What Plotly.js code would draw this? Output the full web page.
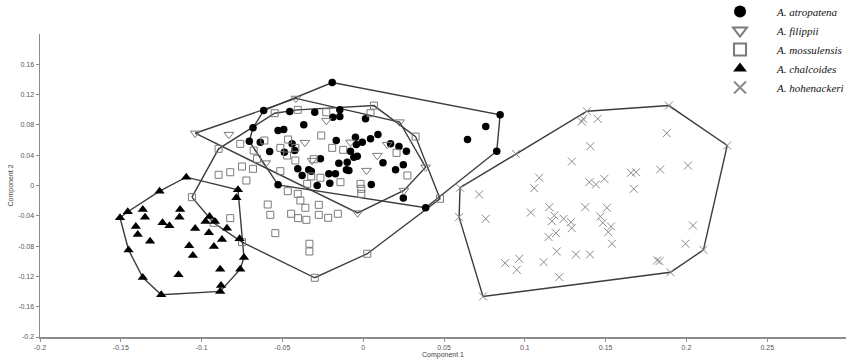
<!DOCTYPE html>
<html>
<head>
<meta charset="utf-8">
<script src="https://cdn.plot.ly/plotly-3.0.1.min.js"></script>
<style>html,body{margin:0;padding:0;background:#fff;}#chart{width:846px;height:361px;}</style>
</head>
<body>
<div id="chart"></div>
<script>
// ---- Data (Component 1 / Component 2 scores) ----
const speciesNames = ["A. atropatena", "A. filippii", "A. mossulensis", "A. chalcoides", "A. hohenackeri"];

const atropatenaX = [-0.0192,-0.0616,-0.0455,-0.0300,-0.0145,-0.0188,-0.0145,0.0014,-0.0682,-0.0368,-0.0527,-0.0492,-0.0705,-0.0637,-0.0579,-0.0440,-0.0488,-0.0424,-0.0167,-0.0048,-0.0006,0.0045,0.0091,-0.0043,0.0169,0.0221,0.0267,-0.0079,-0.0058,-0.0037,-0.0265,-0.0099,-0.0151,0.0122,0.0248,-0.0405,-0.0337,-0.0321,-0.0104,-0.0089,0.0200,-0.0213,-0.0172,-0.0378,-0.0527,-0.0285,-0.0207,0.0050,0.0248,0.0386,0.0847,0.0758,0.0645,0.0826];
const atropatenaY = [0.1359,0.0989,0.0976,0.0967,0.0999,0.0901,0.0910,0.0880,0.0761,0.0801,0.0726,0.0739,0.0584,0.0571,0.0449,0.0550,0.0439,0.0462,0.0594,0.0637,0.0571,0.0616,0.0673,0.0541,0.0550,0.0515,0.0453,0.0453,0.0373,0.0387,0.0352,0.0307,0.0294,0.0299,0.0273,0.0220,0.0207,0.0189,0.0207,0.0198,0.0207,0.0154,0.0154,0.0132,0.0009,0.0000,0.0030,0.0013,-0.0165,-0.0294,0.0933,0.0778,0.0607,0.0453];

const filippiiX = [-0.1040,-0.0831,-0.0417,-0.0228,0.0225,-0.0361,-0.0079,0.0149,0.0087,0.0020,-0.0317,-0.0603,0.0386,0.0252,-0.0035];
const filippiiY = [0.0690,0.0673,0.1150,0.0858,0.0838,0.0567,0.0571,0.0541,0.0396,0.0198,0.0330,0.0297,0.0241,-0.0066,-0.0363];

const mossulensisX = [0.0066,-0.0229,0.0045,-0.0548,-0.0405,0.0324,-0.0260,-0.0612,-0.0465,-0.0761,-0.0895,-0.0678,-0.0513,-0.0420,-0.0192,-0.0124,-0.0471,-0.0420,-0.0657,-0.0750,-0.0682,-0.0823,-0.0895,-0.0723,-0.0513,-0.0306,-0.0265,-0.0322,-0.0141,-0.0017,-0.0012,-0.0012,0.0206,0.0273,-0.1060,-0.0591,-0.0467,-0.0405,-0.0389,-0.0358,-0.0275,-0.0575,-0.0446,-0.0403,-0.0352,-0.0275,-0.0217,-0.0157,-0.0544,-0.0823,-0.0926,-0.0750,-0.0333,-0.0333,-0.0300,0.0025,0.0475,-0.0347];
const mossulensisY = [0.1055,0.0967,0.0954,0.0954,0.0999,0.0646,0.0660,0.0594,0.0607,0.0550,0.0484,0.0462,0.0497,0.0497,0.0497,0.0471,0.0396,0.0330,0.0352,0.0251,0.0220,0.0175,0.0141,0.0066,0.0189,0.0347,0.0102,0.0119,0.0044,0.0022,-0.0044,-0.0110,0.0431,0.0132,-0.0154,-0.0251,-0.0075,-0.0110,-0.0198,-0.0294,-0.0255,-0.0387,-0.0373,-0.0431,-0.0453,-0.0387,-0.0426,-0.0373,-0.0629,-0.0431,-0.0492,-0.0748,-0.0769,-0.0871,-0.1218,-0.0901,-0.0175,0.0022];

const chalcoidesX = [-0.1095,-0.1260,-0.1457,-0.1505,-0.1364,-0.1350,-0.1242,-0.1133,-0.1137,-0.1199,-0.1407,-0.1395,-0.1319,-0.1452,-0.1040,-0.0976,-0.0918,-0.0951,-0.0955,-0.0874,-0.0843,-0.0924,-0.1077,-0.1054,-0.1143,-0.0885,-0.1364,-0.1250,-0.0885,-0.0880,-0.0761,-0.0738,-0.0765,-0.0775,-0.0785];
const chalcoidesY = [0.0110,-0.0075,-0.0346,-0.0426,-0.0317,-0.0418,-0.0492,-0.0317,-0.0418,-0.0532,-0.0541,-0.0646,-0.0735,-0.0850,-0.0567,-0.0475,-0.0475,-0.0409,-0.0624,-0.0712,-0.0563,-0.0805,-0.0796,-0.0923,-0.1178,-0.1104,-0.1214,-0.1442,-0.1398,-0.1319,-0.1104,-0.0950,-0.0703,-0.0057,-0.0162];

const hohenackeriX = [0.1384,0.1891,0.2252,0.2105,0.1901,0.0741,0.0599,0.1353,0.1451,0.1361,0.1878,0.1405,0.1291,0.0944,0.1657,0.1688,0.1837,0.2009,0.1089,0.1058,0.1399,0.1440,0.1492,0.1674,0.0717,0.0758,0.0593,0.1037,0.1151,0.1182,0.1167,0.1240,0.1285,0.1290,0.1374,0.1508,0.1467,0.1482,0.1533,0.1516,0.1539,0.1192,0.1147,0.2040,0.1994,0.1197,0.1316,0.1403,0.1116,0.0878,0.0965,0.0950,0.1213,0.1818,0.1833];
const hohenackeriY = [0.0980,0.1055,0.0528,-0.0850,-0.1146,-0.1465,-0.0030,0.0844,0.0880,0.0880,0.0690,0.0518,0.0317,0.0418,0.0168,0.0175,0.0211,0.0264,0.0102,-0.0036,0.0044,0.0013,0.0088,-0.0044,-0.0119,-0.0439,-0.0418,-0.0356,-0.0286,-0.0396,-0.0471,-0.0439,-0.0484,-0.0563,-0.0286,-0.0294,-0.0409,-0.0492,-0.0541,-0.0616,-0.0769,-0.0629,-0.0682,-0.0528,-0.0769,-0.0871,-0.0910,-0.0910,-0.1012,-0.1025,-0.0967,-0.1112,-0.1210,-0.0989,-0.0999];

const xTickVals = [-0.2,-0.15,-0.1,-0.05,0,0.05,0.1,0.15,0.2,0.25];
const xTickText = ["-0.2","-0.15","-0.1","-0.05","0","0.05","0.1","0.15","0.2","0.25"];
const yTickVals = [-0.2,-0.16,-0.12,-0.08,-0.04,0,0.04,0.08,0.12,0.16];
const yTickText = ["-0.2","-0.16","-0.12","-0.08","-0.04","0","0.04","0.08","0.12","0.16"];

// ---- Convex hull (monotone chain) ----
function hull(xs, ys) {
  const pts = xs.map((x, i) => [x, ys[i]]).sort((a, b) => a[0] - b[0] || a[1] - b[1]);
  const cross = (o, a, b) => (a[0]-o[0])*(b[1]-o[1]) - (a[1]-o[1])*(b[0]-o[0]);
  const lower = [], upper = [];
  for (const p of pts) { while (lower.length >= 2 && cross(lower[lower.length-2], lower[lower.length-1], p) <= 0) lower.pop(); lower.push(p); }
  for (let i = pts.length - 1; i >= 0; i--) { const p = pts[i]; while (upper.length >= 2 && cross(upper[upper.length-2], upper[upper.length-1], p) <= 0) upper.pop(); upper.push(p); }
  upper.pop(); lower.pop();
  const h = lower.concat(upper); h.push(h[0]);
  return {x: h.map(p => p[0]), y: h.map(p => p[1])};
}

const groups = [
  {x: atropatenaX, y: atropatenaY, marker: {symbol: 'circle', size: 7.5, color: '#000'}},
  {x: filippiiX, y: filippiiY, marker: {symbol: 'triangle-down-open', size: 8.5, color: '#7a7a7a', line: {width: 1}}},
  {x: mossulensisX, y: mossulensisY, marker: {symbol: 'square-open', size: 7, color: '#7a7a7a', line: {width: 1}}},
  {x: chalcoidesX, y: chalcoidesY, marker: {symbol: 'triangle-up', size: 9, color: '#000'}},
  {x: hohenackeriX, y: hohenackeriY, marker: {symbol: 'x-thin-open', size: 8, color: '#8a8a8a', line: {width: 1, color: '#8a8a8a'}}}
];

const traces = [];
groups.forEach(g => {
  const h = hull(g.x, g.y);
  traces.push({type: 'scatter', mode: 'lines', x: h.x, y: h.y, showlegend: false, hoverinfo: 'skip',
    line: {color: '#3c3c3c', width: 1.4}});
});
groups.forEach((g, i) => {
  traces.push({type: 'scatter', mode: 'markers', name: speciesNames[i], x: g.x, y: g.y, marker: g.marker});
});

const axisCommon = {
  showgrid: false, zeroline: false, showline: true, linecolor: '#8c8c8c', linewidth: 1.5,
  ticks: 'outside', ticklen: 3, tickwidth: 1, tickcolor: '#8c8c8c', automargin: false,
  tickfont: {family: 'Liberation Sans, Arial', size: 7, color: '#555'}
};

const layout = {
  width: 846, height: 361,
  margin: {l: 40, r: 0, t: 34, b: 24, pad: 0, autoexpand: false},
  paper_bgcolor: '#fff', plot_bgcolor: '#fff',
  xaxis: Object.assign({}, axisCommon, {range: [-0.2, 0.2987], tickvals: xTickVals, ticktext: xTickText,
    title: {text: 'Component 1', font: {family: 'Liberation Sans, Arial', size: 7, color: '#444'}, standoff: 2}}),
  yaxis: Object.assign({}, axisCommon, {range: [-0.2, 0.2], tickvals: yTickVals, ticktext: yTickText,
    title: {text: 'Component 2', font: {family: 'Liberation Sans, Arial', size: 7, color: '#444'}, standoff: 3}}),
  legend: {x: 0.8226, y: 1.122, xanchor: 'left', yanchor: 'top', itemsizing: 'constant', itemwidth: 64, tracegroupgap: 0,
    bgcolor: 'rgba(0,0,0,0)', font: {family: 'Liberation Serif, Times New Roman', size: 11, style: 'italic', color: '#111'}},
  showlegend: true
};

Plotly.newPlot('chart', traces, layout, {staticPlot: true, displayModeBar: false});
</script>
</body>
</html>
